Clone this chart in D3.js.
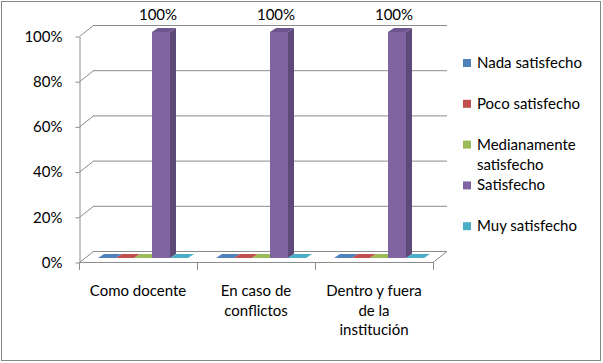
<!DOCTYPE html>
<html>
<head>
<meta charset="utf-8">
<script src="https://cdn.jsdelivr.net/npm/d3@7"></script>
<style>
  body { margin: 0; background: #fff; }
  text { font-family: Lato, "Open Sans", sans-serif; font-size: 15px; fill: #000; }
</style>
</head>
<body>
<svg id="chart" width="603" height="363"></svg>
<script>
"use strict"

const CATEGORIES = ["Como docente", "En caso de\nconflictos", "Dentro y fuera\nde la\ninstitución"];
const SERIES = ["Nada satisfecho", "Poco satisfecho", "Medianamente\nsatisfecho", "Satisfecho", "Muy satisfecho"];
const NADA = [0, 0, 0];
const POCO = [0, 0, 0];
const MEDIANAMENTE = [0, 0, 0];
const SATISFECHO = [1, 1, 1];
const MUY = [0, 0, 0];
const Y_TICKS = [0, 0.2, 0.4, 0.6, 0.8, 1];

const COLORS = ["#4f81bd", "#c0504d", "#9bbb59", "#8064a2", "#4bacc6"];
const SIDE = ["#3a5f8c", "#8e3b39", "#728a42", "#5e4a78", "#367f93"];
const TOP = ["#4672a8", "#a94643", "#88a44e", "#6d5690", "#4297ad"];

const PLOT = { left: 79, right: 433, top: 36, bottom: 262 };
const WALL = { dx: 14, dy: -11 };   // depth of the back wall
const BAR_OFF = { dx: 5, dy: -4 };  // bars sit a bit behind the front plane
const BAR_DEPTH = { dx: 6, dy: -4 };
const GRID = "#8c8c8c";

function drawChart() {
    const svg = d3.select("#chart");
    const values = [NADA, POCO, MEDIANAMENTE, SATISFECHO, MUY];

    svg.append("rect")
        .attr("x", 1.5).attr("y", 1.5).attr("width", 599).attr("height", 359)
        .attr("fill", "#fff").attr("stroke", "#868686");

    const x = d3.scaleBand().domain(d3.range(CATEGORIES.length)).range([PLOT.left, PLOT.right]);
    const xs = d3.scaleBand().domain(d3.range(SERIES.length)).range([0, 90]);
    const y = d3.scaleLinear().domain([0, 1]).range([PLOT.bottom, PLOT.top]);

    // back wall gridlines and left wall diagonals
    const grid = svg.append("g");
    Y_TICKS.forEach(t => {
        grid.append("line")
            .attr("x1", PLOT.left + WALL.dx).attr("x2", PLOT.right + WALL.dx)
            .attr("y1", y(t) + WALL.dy + 0.5).attr("y2", y(t) + WALL.dy + 0.5)
            .attr("stroke", GRID);
        grid.append("line")
            .attr("x1", PLOT.left + 0.5).attr("y1", y(t) + 0.5)
            .attr("x2", PLOT.left + WALL.dx + 0.5).attr("y2", y(t) + WALL.dy + 0.5)
            .attr("stroke", GRID);
    });
    // floor
    grid.append("path")
        .attr("d", `M${PLOT.left},${y(0) + 0.5} L${PLOT.right},${y(0) + 0.5} L${PLOT.right + WALL.dx},${y(0) + WALL.dy + 0.5}`)
        .attr("fill", "none").attr("stroke", GRID);

    // y axis
    const yAxis = svg.append("g")
        .attr("transform", `translate(${PLOT.left + 0.5},0.5)`)
        .call(d3.axisLeft(y).tickValues(Y_TICKS).tickFormat(d3.format(".0%")).tickSize(4).tickSizeOuter(0).tickPadding(13));
    yAxis.select(".domain").attr("stroke", GRID);
    yAxis.selectAll(".tick line").attr("stroke", GRID);
    yAxis.selectAll("text").attr("font-family", null).attr("font-size", null);

    // x ticks at category boundaries
    const bounds = x.domain().map(i => x(i)).concat([PLOT.right]);
    svg.append("g").selectAll("line").data(bounds).join("line")
        .attr("x1", d => d + 0.5).attr("x2", d => d + 0.5)
        .attr("y1", y(0)).attr("y2", y(0) + 8)
        .attr("stroke", GRID);

    // category labels
    const labels = svg.append("g");
    CATEGORIES.forEach((c, i) => {
        const t = labels.append("text")
            .attr("text-anchor", "middle")
            .attr("x", x(i) + x.bandwidth() / 2)
            .attr("y", 296);
        c.split("\n").forEach((line, k) => {
            t.append("tspan").attr("x", x(i) + x.bandwidth() / 2).attr("dy", k === 0 ? 0 : 19.5).text(line);
        });
    });

    // bars
    const bars = svg.append("g");
    const pad = (x.bandwidth() - 90) / 2;
    CATEGORIES.forEach((c, ci) => {
        SERIES.forEach((s, si) => {
            const v = values[si][ci];
            const x0 = x(ci) + pad + xs(si) + BAR_OFF.dx;
            const x1 = x0 + xs.bandwidth();
            const yb = y(0) + BAR_OFF.dy;
            const yt = y(v) + BAR_OFF.dy;
            const d = BAR_DEPTH;
            if (v > 0) {
                bars.append("rect")
                    .attr("x", x0).attr("y", yt).attr("width", x1 - x0).attr("height", yb - yt)
                    .attr("fill", COLORS[si]);
                bars.append("path")
                    .attr("d", `M${x1},${yt} L${x1 + d.dx},${yt + d.dy} L${x1 + d.dx},${yb + d.dy} L${x1},${yb} Z`)
                    .attr("fill", SIDE[si]);
                svg.append("text")
                    .attr("text-anchor", "middle")
                    .attr("x", x0 + xs.bandwidth() / 2 - 3)
                    .attr("y", yt - 12)
                    .text(d3.format(".0%")(v));
            }
            bars.append("path")
                .attr("d", `M${x0},${yt} L${x1},${yt} L${x1 + d.dx},${yt + d.dy} L${x0 + d.dx},${yt + d.dy} Z`)
                .attr("fill", v > 0 ? TOP[si] : COLORS[si]);
        });
    });

    // legend
    const legend = svg.append("g");
    SERIES.forEach((s, i) => {
        const ly = 63 + i * 40.8;
        legend.append("rect")
            .attr("x", 463).attr("y", ly - 4).attr("width", 8).attr("height", 8)
            .attr("fill", COLORS[i]);
        const t = legend.append("text").attr("x", 477).attr("y", ly + 5);
        s.split("\n").forEach((line, k) => {
            t.append("tspan").attr("x", 477).attr("dy", k === 0 ? 0 : 20).text(line);
        });
    });
}

document.addEventListener("DOMContentLoaded", drawChart);
</script>
</body>
</html>
